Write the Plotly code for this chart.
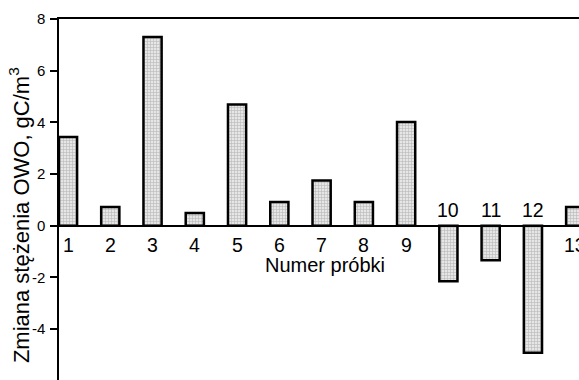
import plotly.graph_objects as go

# Data
samples = [1, 2, 3, 4, 5, 6, 7, 8, 9, 10, 11, 12, 13]
sample_labels = ["1", "2", "3", "4", "5", "6", "7", "8", "9", "10", "11", "12", "13"]
owo_change = [3.43, 0.72, 7.3, 0.49, 4.69, 0.92, 1.75, 0.92, 4.01, -2.15, -1.34, -4.92, 0.72]
y_ticks = [-6, -4, -2, 0, 2, 4, 6, 8]
y_tick_labels = ["-6", "-4", "-2", "0", "2", "4", "6", "8"]

FONT = "Liberation Sans, Arial, Helvetica, sans-serif"

fig = go.Figure()
fig.add_trace(go.Bar(
    x=samples,
    y=owo_change,
    width=0.43,
    marker=dict(
        color="#e6e6e6",
        line=dict(color="black", width=2.5),
        pattern=dict(shape="+", fgcolor="#8a8a8a", size=3, solidity=0.35),
    ),
    showlegend=False,
))

# category labels next to the zero line, on the opposite side of the bar
for xv, lab, v in zip(samples, sample_labels, owo_change):
    fig.add_annotation(
        x=xv, y=0, xref="x", yref="y", text=lab, showarrow=False,
        xanchor="center", yanchor="middle",
        yshift=(-19.5 if v >= 0 else 16),
        font=dict(family=FONT, size=19.5, color="black"),
    )

fig.add_annotation(
    x=0.5115, xref="paper", y=0, yref="y", yshift=-39,
    text="Numer próbki", showarrow=False,
    xanchor="center", yanchor="middle",
    font=dict(family=FONT, size=20, color="black"),
)

fig.add_annotation(
    x=-0.0755, xref="paper", y=0.456, yref="paper",
    text="Zmiana stężenia OWO, gC/m<sup>3</sup>", showarrow=False,
    textangle=-90, xanchor="center", yanchor="middle",
    font=dict(family=FONT, size=22, color="black"),
)

fig.update_layout(
    width=579, height=380,
    margin=dict(l=59, r=0, t=19, b=0, autoexpand=False),
    paper_bgcolor="white", plot_bgcolor="white",
    font=dict(family=FONT, color="black"),
    xaxis=dict(
        range=[0.787, 13.09], side="top", showline=True, linecolor="black",
        linewidth=2, ticks="", showticklabels=False, showgrid=False,
        zeroline=False, automargin=False,
    ),
    yaxis=dict(
        range=[-5.97, 8], tickvals=y_ticks, ticktext=y_tick_labels,
        showline=True, linecolor="black",
        linewidth=1.5, ticks="outside", ticklen=7, tickwidth=1.5,
        tickcolor="black", showgrid=False, zeroline=True, zerolinecolor="black",
        zerolinewidth=2, tickfont=dict(family=FONT, size=15, color="black"),
        ticklabelstandoff=2, automargin=False,
    ),
)

fig.write_html("out.html")
